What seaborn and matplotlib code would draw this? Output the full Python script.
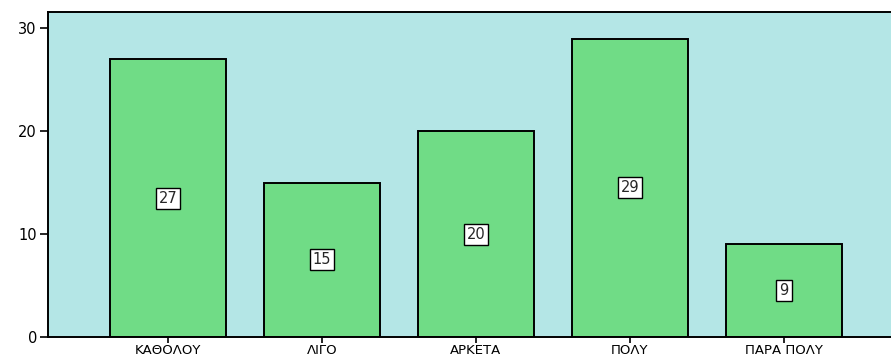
import matplotlib
matplotlib.use("Agg")
import matplotlib.pyplot as plt
import seaborn as sns
import pandas as pd

categories = ["ΚΑΘΟΛΟΥ", "ΛΙΓΟ", "ΑΡΚΕΤΑ", "ΠΟΛΥ", "ΠΑΡΑ ΠΟΛΥ"]
counts = [27, 15, 20, 29, 9]
y_ticks = [0, 10, 20, 30]

sns.set_theme(style="white")
plt.rcParams["font.family"] = ["DejaVu Sans"]

df = pd.DataFrame({"category": categories, "count": counts})

fig = plt.figure(figsize=(8.91, 3.58), dpi=100)
ax = fig.add_axes([48 / 891, 21 / 358, 1 - 48 / 891, 325 / 358])
ax.set_facecolor("#B4E6E6")

sns.barplot(data=df, x="category", y="count", color="#70DC86", saturation=1,
            width=0.753, edgecolor="black", linewidth=1.4, ax=ax, zorder=2)

for i, v in enumerate(counts):
    ax.text(i, v / 2, str(v), ha="center", va="center", fontsize=10.5,
            bbox=dict(boxstyle="square,pad=0.2", facecolor="white",
                      edgecolor="black", linewidth=1.0), zorder=3)

ax.set_xlim(-0.779, 4.695)
ax.set_ylim(0, 31.6)
ax.set_yticks(y_ticks)
ax.set_xlabel("")
ax.set_ylabel("")
ax.tick_params(axis="both", direction="out", width=1.2, color="black",
               labelcolor="black", left=True, bottom=True)
ax.tick_params(axis="x", length=4.5, pad=0.5, labelsize=9.5)
ax.tick_params(axis="y", length=6, pad=2, labelsize=10.5)
for side in ["left", "top", "bottom"]:
    ax.spines[side].set_color("black")
    ax.spines[side].set_linewidth(1.4)
ax.spines["right"].set_visible(False)

fig.savefig("out.png", dpi=100)
